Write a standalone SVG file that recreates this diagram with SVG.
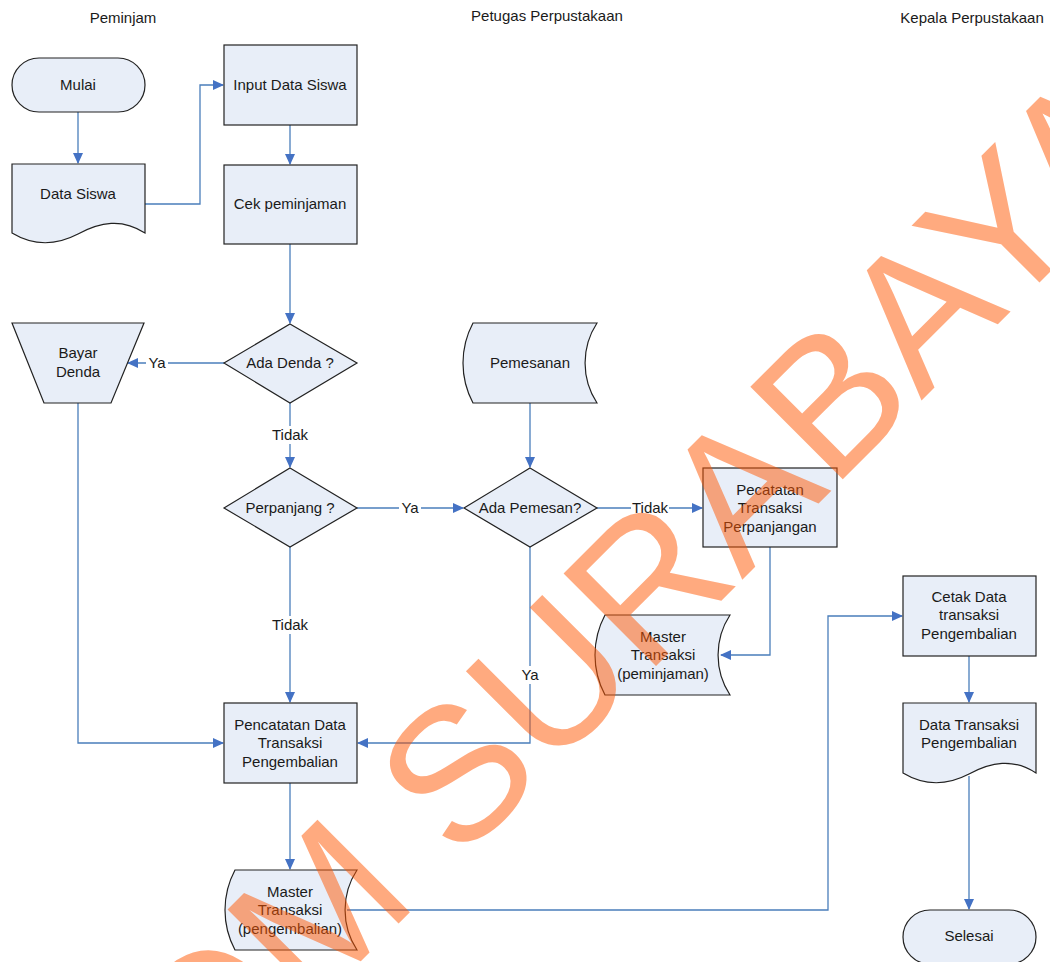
<svg xmlns="http://www.w3.org/2000/svg" width="1050" height="962" viewBox="0 0 1050 962">
<style>
text{font-family:"Liberation Sans",Arial,sans-serif;font-size:15px;fill:#1a1a1a;text-anchor:middle}
.n{fill:#E8EEF8;stroke:#222;stroke-width:1.2}
.c{fill:none;stroke:#4A7EBB;stroke-width:1.3}
.lb{fill:#fff;stroke:none}
.wm{font-size:190px;fill:#FF5500;fill-opacity:0.5;text-anchor:start}
</style>
<defs>
<marker id="ah" markerUnits="userSpaceOnUse" markerWidth="11" markerHeight="10" refX="10" refY="5" orient="auto">
<path d="M0,0 L11,5 L0,10 Z" fill="#4472C4"/>
</marker>
</defs>
<g id="headers">
<text x="123" y="23">Peminjam</text>
<text x="547" y="21">Petugas Perpustakaan</text>
<text x="972" y="23">Kepala Perpustakaan</text>
</g>
<g id="connectors">
<path class="c" d="M78,112 V163" marker-end="url(#ah)"/>
<path class="c" d="M145,204 H200 V85 H223" marker-end="url(#ah)"/>
<path class="c" d="M290,125 V164" marker-end="url(#ah)"/>
<path class="c" d="M290,244 V323" marker-end="url(#ah)"/>
<path class="c" d="M224,363 H128" marker-end="url(#ah)"/>
<path class="c" d="M290,403 V467" marker-end="url(#ah)"/>
<path class="c" d="M357,508 H463" marker-end="url(#ah)"/>
<path class="c" d="M597,508 H702" marker-end="url(#ah)"/>
<path class="c" d="M530,403 V467" marker-end="url(#ah)"/>
<path class="c" d="M290,547 V702" marker-end="url(#ah)"/>
<path class="c" d="M78,403 V743 H223" marker-end="url(#ah)"/>
<path class="c" d="M530,547 V743 H358" marker-end="url(#ah)"/>
<path class="c" d="M770,547 V655 H721" marker-end="url(#ah)"/>
<path class="c" d="M290,783 V869" marker-end="url(#ah)"/>
<path class="c" d="M347,910 H828 V616 H902" marker-end="url(#ah)"/>
<path class="c" d="M969,656 V702" marker-end="url(#ah)"/>
<path class="c" d="M969,776 V909" marker-end="url(#ah)"/>
<g id="labels">
<rect class="lb" x="146" y="354" width="22" height="18"/><text x="157" y="368">Ya</text>
<rect class="lb" x="271" y="426" width="38" height="18"/><text x="290" y="440">Tidak</text>
<rect class="lb" x="399" y="499" width="22" height="18"/><text x="410" y="513">Ya</text>
<rect class="lb" x="631" y="499" width="38" height="18"/><text x="650" y="513">Tidak</text>
<rect class="lb" x="271" y="616" width="38" height="18"/><text x="290" y="630">Tidak</text>
<rect class="lb" x="519" y="666" width="22" height="18"/><text x="530" y="680">Ya</text>
</g>
</g>
<g id="mulai">
<rect class="n" x="12" y="58" width="133" height="54" rx="27" ry="27"/>
<text x="78" y="90">Mulai</text>
</g>
<g id="data-siswa">
<path class="n" d="M12,164 H145 V233 C122,218 100,222 78,234 C55,246 32,245 12,233 Z"/>
<text x="78" y="199">Data Siswa</text>
</g>
<g id="input-data-siswa">
<rect class="n" x="224" y="45" width="133" height="80"/>
<text x="290" y="90">Input Data Siswa</text>
</g>
<g id="cek-peminjaman">
<rect class="n" x="224" y="165" width="133" height="79"/>
<text x="290" y="209">Cek peminjaman</text>
</g>
<g id="ada-denda">
<path class="n" d="M290,324 L357,363 L290,403 L224,363 Z"/>
<text x="290" y="368">Ada Denda ?</text>
</g>
<g id="bayar-denda">
<path class="n" d="M12,323 H144 L111,403 H44 Z"/>
<text x="78" y="358">Bayar</text>
<text x="78" y="377">Denda</text>
</g>
<g id="perpanjang">
<path class="n" d="M290,468 L357,508 L290,547 L224,508 Z"/>
<text x="290" y="513">Perpanjang ?</text>
</g>
<g id="pemesanan">
<path class="n" d="M473,323 H597 A73,73 0 0 0 597,403 H473 A85,85 0 0 1 473,323 Z"/>
<text x="530" y="368">Pemesanan</text>
</g>
<g id="ada-pemesan">
<path class="n" d="M530,468 L597,508 L530,547 L464,508 Z"/>
<text x="530" y="513">Ada Pemesan?</text>
</g>
<g id="pecatatan-perpanjangan">
<rect class="n" x="703" y="468" width="134" height="79"/>
<text x="770" y="495">Pecatatan</text>
<text x="770" y="513">Transaksi</text>
<text x="770" y="532">Perpanjangan</text>
</g>
<g id="master-peminjaman">
<path class="n" d="M605,615 H730 A73,73 0 0 0 730,695 H605 A85,85 0 0 1 605,615 Z"/>
<text x="663" y="642">Master</text>
<text x="663" y="660">Transaksi</text>
<text x="663" y="679">(peminjaman)</text>
</g>
<g id="pencatatan-pengembalian">
<rect class="n" x="224" y="703" width="133" height="80"/>
<text x="290" y="730">Pencatatan Data</text>
<text x="290" y="748">Transaksi</text>
<text x="290" y="767">Pengembalian</text>
</g>
<g id="master-pengembalian">
<path class="n" d="M235,870 H357 A73,73 0 0 0 357,950 H235 A85,85 0 0 1 235,870 Z"/>
<text x="290" y="897">Master</text>
<text x="290" y="915">Transaksi</text>
<text x="290" y="934">(pengembalian)</text>
</g>
<g id="cetak-data">
<rect class="n" x="903" y="576" width="133" height="80"/>
<text x="969" y="602">Cetak Data</text>
<text x="969" y="620">transaksi</text>
<text x="969" y="639">Pengembalian</text>
</g>
<g id="data-transaksi">
<path class="n" d="M903,703 H1036 V773 C1013,758 991,762 969,774 C946,786 923,785 903,773 Z"/>
<text x="969" y="730">Data Transaksi</text>
<text x="969" y="748">Pengembalian</text>
</g>
<g id="selesai">
<rect class="n" x="903" y="910" width="133" height="54" rx="27" ry="27"/>
<text x="969" y="941">Selesai</text>
</g>
<text class="wm" transform="translate(-94,1416) rotate(-45)">STIKOM SURABAYA</text>
</svg>
